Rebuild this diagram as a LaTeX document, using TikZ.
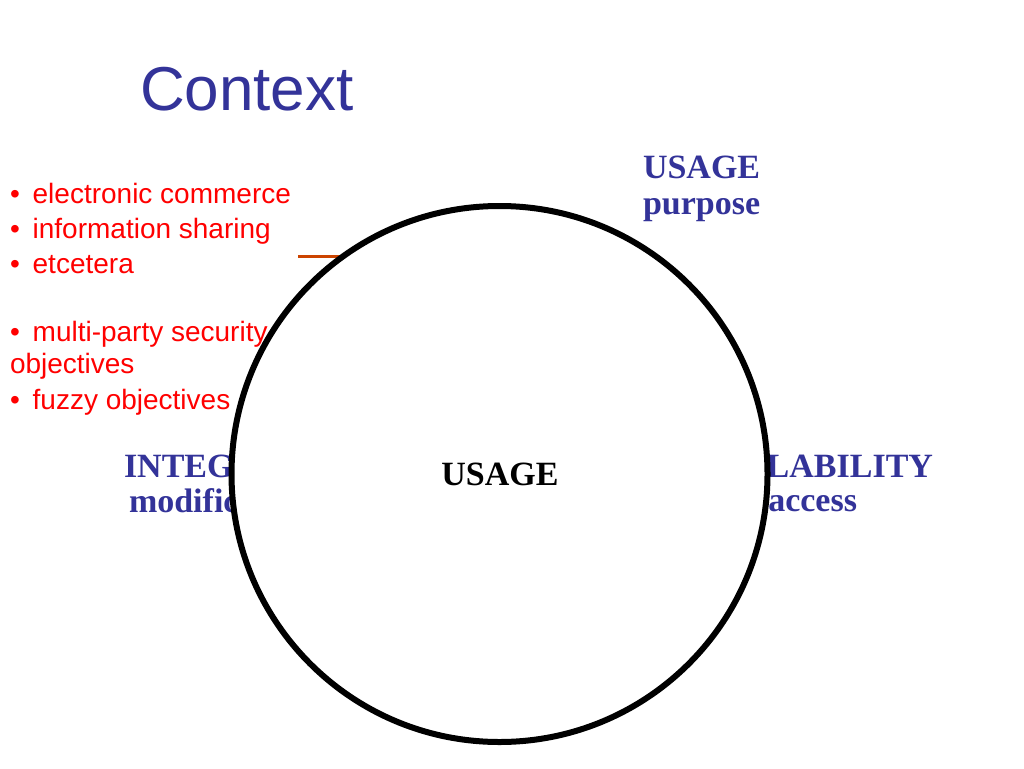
\documentclass[tikz,border=0pt]{standalone}
\usepackage{fontspec}
\setmainfont{Liberation Serif}
\newfontfamily\slidefont{Liberation Sans}
\usepackage{tikz}
\usetikzlibrary{positioning}
\definecolor{SlideBlue}{RGB}{51,51,153}
\definecolor{TickOrange}{RGB}{204,68,0}
\newcommand{\pt}{\textbullet\hspace{0.46em}}

\begin{document}
\begin{tikzpicture}[
		x=1pt, y=-1pt,
		every node/.style={inner sep=0pt, outer sep=0pt},
		title/.style={anchor=base west, SlideBlue, font=\slidefont\fontsize{62}{70}\selectfont},
		bullet/.style={anchor=base west, red, font=\slidefont\fontsize{28}{34}\selectfont},
		facet/.style={SlideBlue, font=\bfseries\fontsize{34}{39}\selectfont},
		hub/.style={circle, draw=black, fill=white, line width=6pt, minimum size=536pt},
		tick/.style={TickOrange, line width=3pt}
	]
	\useasboundingbox[fill=white] (0,0) rectangle (1024,768);
	
	\node(title)[title] at (140,110) {Context};
	
	% scenarios
	\node(commerce)[bullet] at (10,203) {\pt electronic commerce};
	\node(sharing)[bullet] at (10,238) {\pt information sharing};
	\node(etc)[bullet] at (10,273) {\pt etcetera};
	\node(multi)[bullet] at (10,341) {\pt multi-party security};
	\node(multib)[bullet] at (10,373) {objectives};
	\node(fuzzy)[bullet] at (10,409) {\pt fuzzy objectives};
	
	% properties round the circle
	\node(usage)[facet, anchor=base west] at (643,178) {USAGE};
	\node(purpose)[facet, anchor=base west] at (643,214) {purpose};
	\node(integ)[facet, anchor=base west] at (124,477) {INTEG};
	\node(modif)[facet, anchor=base west] at (129,512) {modific};
	\node(avail)[facet, anchor=base east] at (933,477) {LABILITY};
	\node(access)[facet, anchor=base east] at (857,511) {access};
	
	\coordinate(tickA) at (298,256);
	\coordinate(tickB) at (346,256);
	\draw[tick] (tickA) -- (tickB);
	
	\node(ring)[hub] at (499.5,474) {};
	\node(core)[anchor=base, font=\bfseries\fontsize{34}{39}\selectfont] at (500,485) {USAGE};
\end{tikzpicture}
\end{document}
